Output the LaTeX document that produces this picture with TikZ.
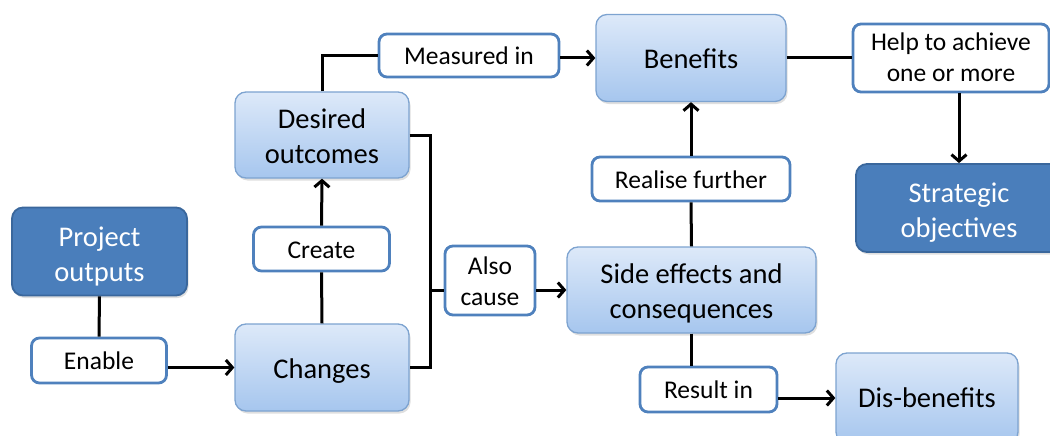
\documentclass[tikz,border=0pt]{standalone}
\usepackage{fontspec}
\setmainfont{Carlito}
\usetikzlibrary{shadows,arrows.meta}
\definecolor{dkfill}{HTML}{4A7EBB}
\definecolor{dkline}{HTML}{3A679C}
\definecolor{lbtop}{HTML}{DDE9F9}
\definecolor{lbbot}{HTML}{A6C6EE}
\definecolor{lbline}{HTML}{7DA3D0}
\definecolor{wline}{HTML}{4F81BD}
\newcommand{\dn}[2][4pt]{\raisebox{-#1}[\height][\depth]{\begin{tabular}{@{}c@{}}#2\end{tabular}}}
\tikzset{
  base/.style={rounded corners=11pt, inner sep=0pt, align=center,
    drop shadow={shadow xshift=1.5pt,shadow yshift=-2.5pt,opacity=0.25}},
  dark/.style={base, fill=dkfill, draw=dkline, line width=1.8pt, text=white,
    font=\fontsize{28.5}{35}\selectfont},
  light/.style={base, top color=lbtop, bottom color=lbbot, draw=lbline, line width=1.3pt,
    font=\fontsize{28.5}{35}\selectfont},
  lbl/.style={rounded corners=8pt, inner sep=0pt, align=center, fill=white, draw=wline,
    line width=2.8pt, font=\fontsize{25.5}{31}\selectfont},
  conn/.style={line width=3pt, draw=black},
  arr/.style={conn, -{Straight Barb[length=6.5pt,width=15pt]}}
}
\begin{document}
\begin{tikzpicture}[x=1pt,y=-1pt]
\useasboundingbox (0,0) rectangle (1050,436);
\node[dark,  minimum width=175pt, minimum height=88pt] (po) at (99.5,251.5) {\dn[5pt]{Project\\outputs}};
\node[lbl,   minimum width=135pt, minimum height=45pt] (en) at (99,360.5) {\dn[3pt]{Enable}};
\node[light, minimum width=174pt, minimum height=87pt] (ch) at (322,367.5) {\dn{Changes}};
\node[lbl,   minimum width=136pt, minimum height=44pt] (cr) at (321.5,249) {\dn[3pt]{Create}};
\node[light, minimum width=174pt, minimum height=86pt] (do) at (322,135) {\dn[4pt]{Desired\\outcomes}};
\node[lbl,   minimum width=180pt, minimum height=43pt] (mi) at (469,55.5) {\dn[3pt]{Measured in}};
\node[light, minimum width=190pt, minimum height=87pt] (be) at (691,58) {\dn{Benefits}};
\node[lbl,   minimum width=196pt, minimum height=68pt] (hp) at (951,58) {\dn[2pt]{Help to achieve\\one or more}};
\node[dark,  minimum width=206pt, minimum height=88pt] (so) at (959,208) {\dn[5pt]{Strategic\\objectives}};
\node[lbl,   minimum width=90pt,  minimum height=69pt] (ac) at (490,280.5) {\dn[3pt]{Also\\cause}};
\node[light, minimum width=249pt, minimum height=86pt] (se) at (691.5,290) {\dn[4pt]{Side effects and\\consequences}};
\node[lbl,   minimum width=198pt, minimum height=44pt] (rf) at (691,179) {\dn[3pt]{Realise further}};
\node[lbl,   minimum width=137pt, minimum height=45pt] (ri) at (708.5,389.5) {\dn[3pt]{Result in}};
\node[light, minimum width=182pt, minimum height=90pt] (db) at (927,398) {\dn[2pt]{Dis-benefits}};
\coordinate (bx) at (430,290);

\draw[conn] (po.south) -- (en.north);
\draw[arr] (en.east |- ch.west) -- (ch.west);
\draw[conn] (ch.north) -- (cr.south);
\draw[arr] (cr.north) -- (do.south);
\draw[conn] (do.north) |- (mi.west);
\draw[arr] (mi.east |- be.west) -- (be.west);
\draw[conn] (be.east) -- (be.east -| hp.west);
\draw[arr] (hp.south -| so.north) -- (so.north);
\draw[conn] (do.east) -| (bx) |- (ch.east);
\draw[conn] (bx) -- (bx -| ac.west);
\draw[arr] (ac.east |- se.west) -- (se.west);
\draw[conn] (se.north) -- (rf.south);
\draw[arr] (rf.north) -- (be.south);
\draw[conn] (se.south) -- (se.south |- ri.north);
\draw[arr] (ri.east |- db.west) -- (db.west);
\end{tikzpicture}
\end{document}
